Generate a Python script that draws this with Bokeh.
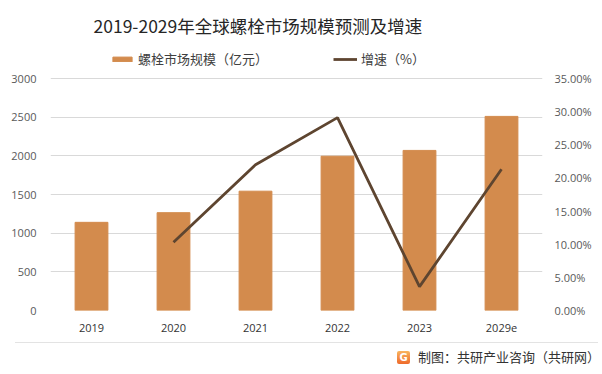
from bokeh.plotting import figure
from bokeh.layouts import column
from bokeh.models import (Range1d, LinearAxis, FixedTicker, NumeralTickFormatter, Legend, LegendItem,
                          Label, FactorRange, Div)
from bokeh.embed import file_html
from bokeh.resources import INLINE

years = ["2019", "2020", "2021", "2022", "2023", "2029e"]
market_size = [1140, 1265, 1543, 1995, 2070, 2510]
growth_years = ["2020", "2021", "2022", "2023", "2029e"]
growth = [0.103, 0.220, 0.291, 0.036, 0.213]
left_ticks = [0, 500, 1000, 1500, 2000, 2500, 3000]
right_ticks = [0, 0.05, 0.10, 0.15, 0.20, 0.25, 0.30, 0.35]

title_text = "2019-2029年全球螺栓市场规模预测及增速"
bar_label = "螺栓市场规模（亿元）"
line_label = "增速（%）"
source_text = "制图：共研产业咨询（共研网）"

BAR = "#D38B4D"
LINE = "#5E4530"
CJK = "Noto Sans CJK SC"

# frame spans the canvas top down to the zero line; the value axes cover the lower 232 px
FRAME_H = 310
AXIS_H = 232
stretch = FRAME_H / AXIS_H

p = figure(width=602, height=336, x_range=FactorRange(*years, range_padding=0),
           y_range=Range1d(0, left_ticks[-1] * stretch), output_backend="svg",
           toolbar_location=None,
           min_border_left=50, min_border_right=60, min_border_top=0, min_border_bottom=26)
p.outline_line_color = None
p.background_fill_color = "white"
p.border_fill_color = "white"

p.extra_y_ranges = {"pct": Range1d(0, right_ticks[-1] * stretch)}

bars = p.vbar(x=years, top=market_size, width=0.4, color=BAR)
line = p.line(x=growth_years, y=growth, y_range_name="pct", color=LINE, line_width=2.8)

p.yaxis.ticker = FixedTicker(ticks=left_ticks)
ra = LinearAxis(y_range_name="pct", ticker=FixedTicker(ticks=right_ticks),
                formatter=NumeralTickFormatter(format="0.00%"))
p.add_layout(ra, "right")
for ax in [p.yaxis[0], ra, p.xaxis[0]]:
    ax.axis_line_color = None
    ax.major_tick_line_color = None
    ax.minor_tick_line_color = None
    ax.major_label_text_font = "Open Sans"
    ax.major_label_text_font_size = "11px"
    ax.major_label_text_color = "#595959"
p.yaxis.major_label_standoff = 8
ra.major_label_standoff = 6
p.xaxis.major_label_text_color = "#333333"
p.xaxis.major_label_standoff = 7
p.xgrid.grid_line_color = None
p.ygrid.ticker = FixedTicker(ticks=left_ticks)
p.ygrid.grid_line_color = "#D9D9D9"
p.ygrid.grid_line_width = 1

legend = Legend(items=[LegendItem(label=bar_label, renderers=[bars]),
                       LegendItem(label=line_label, renderers=[line])],
                orientation="horizontal", location=(60, 242), spacing=65,
                glyph_width=24, glyph_height=6, label_standoff=4, padding=0, margin=0,
                label_text_font=CJK, label_text_font_size="13px", label_text_color="#404040",
                border_line_color=None, background_fill_alpha=0)
p.add_layout(legend, "center")

p.add_layout(Label(x=43, y=285, x_units="screen", y_units="screen", text=title_text,
                   text_font=CJK, text_font_size="17.5px", text_color="#262626",
                   text_baseline="middle"))

footer_html = (
    '<div style="position:relative;width:602px;height:38px;margin:0;padding:0;">'
    '<div style="position:absolute;left:15px;top:6px;width:583px;height:1px;background:#E3E3E3;"></div>'
    '<div style="position:absolute;left:397px;top:15px;width:13px;height:13px;border-radius:2px;'
    'background:linear-gradient(#F9B45E,#EE6A2B);color:#fff;font:bold 10px \'DejaVu Sans\';'
    'text-align:center;line-height:13px;">G</div>'
    '<div style="position:absolute;left:418px;top:12px;font-family:\'Noto Sans CJK SC\';'
    'font-size:13px;line-height:18px;color:#333333;white-space:nowrap;">' + source_text + '</div>'
    '</div>'
)
footer = Div(text=footer_html, width=602, height=38, styles={"margin": "0", "padding": "0"})

layout = column(p, footer, spacing=0)
open("out.html", "w").write(file_html(layout, INLINE))
